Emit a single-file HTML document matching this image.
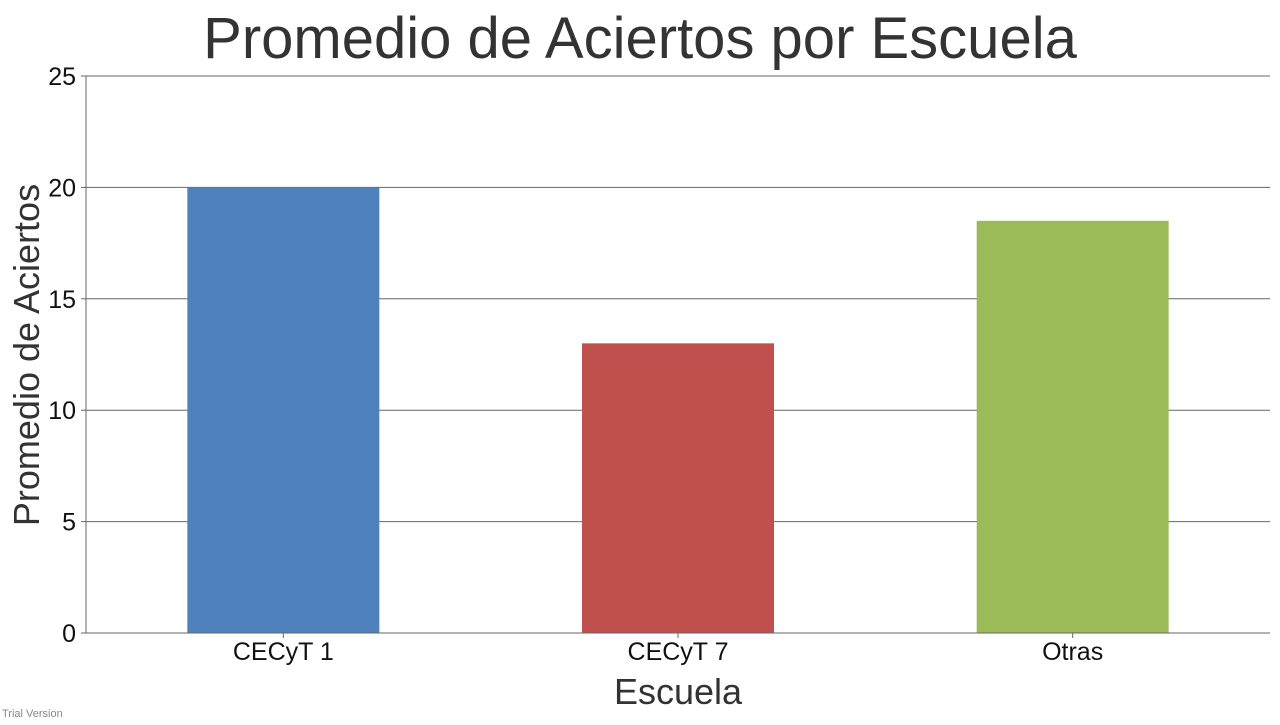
<!DOCTYPE html>
<html><head><meta charset="utf-8"><style>
body{margin:0;background:#fff;width:1280px;height:720px;overflow:hidden;font-family:"Liberation Sans",sans-serif}
</style></head><body>
<svg id="chart" width="1280" height="720" xmlns="http://www.w3.org/2000/svg">
<text x="640" y="58" text-anchor="middle" font-size="58" fill="#333">Promedio de Aciertos por Escuela</text>
<g id="grid"></g><g id="bars"></g><g id="axes"></g>
<text x="678" y="704" text-anchor="middle" font-size="36" fill="#333">Escuela</text>
<text transform="translate(39,355) rotate(-90)" text-anchor="middle" font-size="36" fill="#333">Promedio de Aciertos</text>
<text x="2" y="717" font-size="11" fill="#888">Trial Version</text>
</svg>
<script>
const categories=["CECyT 1","CECyT 7","Otras"];
const values=[20,13,18.5];
const colors=["#4f81bd","#c0504d","#9bbb59"];
const yTicks=[0,5,10,15,20,25];
const L=86,R=1270,T=76,B=633,yMax=25;
const NS="http://www.w3.org/2000/svg";
const y=v=>B-(v/yMax)*(B-T);
const band=(R-L)/categories.length;
const x=i=>L+band*(i+0.5);
const bw=band*0.4865;
function mk(tag,attrs,parent){const e=document.createElementNS(NS,tag);for(const k in attrs)e.setAttribute(k,attrs[k]);document.getElementById(parent).appendChild(e);return e;}
yTicks.forEach(t=>{
 if(t>0){const g=mk('line',{x1:L,x2:R,y1:y(t),y2:y(t),stroke:'#666','stroke-width':1},'grid');
 
 }
 const tk=mk('line',{x1:L-5,x2:L,y1:y(t),y2:y(t),stroke:'#666'},'axes');
 
 
 const lb=mk('text',{x:L-10,y:y(t)+9,'text-anchor':'end','font-size':25,fill:'#111'},'axes');
 lb.textContent=t;
 
 
});
categories.forEach((c,i)=>{
 const r=mk('rect',{x:x(i)-bw/2,y:y(values[i]),width:bw,height:B-y(values[i]),fill:colors[i]},'bars');
 
 
 const tk=mk('line',{x1:x(i),x2:x(i),y1:B,y2:B+5,stroke:'#666'},'axes');
 
 
 const lb=mk('text',{x:x(i),y:660,'text-anchor':'middle','font-size':25,fill:'#111'},'axes');
 lb.textContent=c;
 
 
});
const ya=mk('line',{x1:L,x2:L,y1:T,y2:B,stroke:'#666'},'axes');


const xa=mk('line',{x1:L,x2:R,y1:B,y2:B,stroke:'#666'},'axes');


</script>
</body></html>
